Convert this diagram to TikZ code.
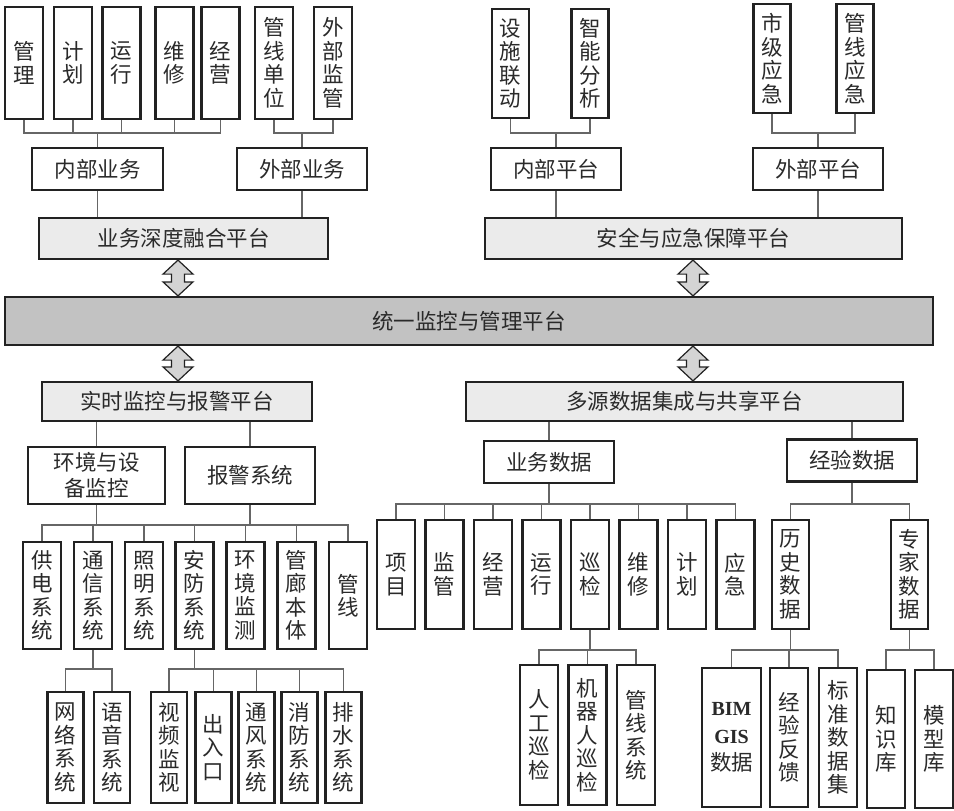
\documentclass[tikz,border=0pt]{standalone}
\usepackage{fontspec}
\setmainfont{Noto Sans CJK SC}
\newfontfamily\latserif{Liberation Serif}
\usetikzlibrary{calc}
\definecolor{edge}{HTML}{222222}
\definecolor{wirecol}{HTML}{666666}
\definecolor{txt}{HTML}{2A2A2A}
\definecolor{platfill}{HTML}{EBEBEB}
\definecolor{corefill}{HTML}{C2C2C2}
\definecolor{arrfill}{HTML}{D4D4D4}

\begin{document}
\begin{tikzpicture}[x=1pt, y=-1pt,
    every node/.style={font=\fontsize{21.5}{23.5}\selectfont, text=txt, inner sep=0pt, align=center},
    box/.style={draw=edge, line width=2.2pt, fill=white},
    leaf/.style={box, minimum width=38pt, minimum height=#1},
    leaf/.default=109pt,
    mid/.style={box, minimum width=130pt, minimum height=42pt},
    plat/.style={box, fill=platfill, minimum height=41pt},
    wire/.style={draw=wirecol, line width=1.1pt},
    twoway/.style={draw=edge, line width=1.2pt, fill=arrfill, line join=miter},
]
\useasboundingbox (0,0) rectangle (954,811);
\def\bus#1#2#3{\foreach \c in {#3} \draw[wire] (#1) -- (#1 |- #2) -| (\c);}
\def\bothway#1#2#3{%
  \draw[twoway] let \p1=(#1.south), \p2=(#2.north) in
    (#3pt,\y1) -- ++(15pt,-14pt) -- ++(-8.5pt,0pt) -- ({#3pt+6.5pt},{\y2+14pt})
    -- ++(8.5pt,0pt) -- (#3pt,\y2) -- ++(-15pt,14pt) -- ++(8.5pt,0pt)
    -- ({#3pt-6.5pt},{\y1-14pt}) -- ++(-8.5pt,0pt) -- cycle;}
\coordinate (busA) at (0,133);
\coordinate (busB) at (0,525);
\coordinate (busC) at (0,669);
\coordinate (busD) at (0,504);
\coordinate (busE) at (0,650);

% top left: business fusion
\foreach \n/\x/\t in {gl/24/管\\理, jh/73/计\\划, yx/121.5/运\\行, wx/174.5/维\\修,
    jy/220.5/经\\营, gxdw/274/管\\线\\单\\位, wbjg/333/外\\部\\监\\管}
    \node[leaf=112pt] (\n) at (\x, 63) {\t};
\node[mid, minimum width=131pt] (inbiz) at (97.5, 169) {内部业务};
\node[mid] (outbiz) at (302, 169) {外部业务};
\node[plat, minimum width=289pt] (bizplat) at (183.5, 238.5) {业务深度融合平台};
\bus{inbiz}{busA}{gl, jh, yx, wx, jy}
\bus{outbiz}{busA}{gxdw, wbjg}
\draw[wire] (inbiz) -- (inbiz |- bizplat.north);
\draw[wire] (outbiz) -- (outbiz |- bizplat.north);

% top right: safety and emergency
\foreach \n/\x/\y/\t in {ssld/510.5/63.5/设\\施\\联\\动, znfx/590/63.5/智\\能\\分\\析,
    sjyj/772/58.5/市\\级\\应\\急, gxyj/855/58.5/管\\线\\应\\急}
    \node[leaf, minimum width=37pt] (\n) at (\x, \y) {\t};
\node[mid] (inplat) at (556, 169) {内部平台};
\node[mid] (outplat) at (818, 169) {外部平台};
\node[plat, minimum width=417pt] (safeplat) at (693.5, 238.5) {安全与应急保障平台};
\bus{inplat}{busA}{ssld, znfx}
\bus{outplat}{busA}{sjyj, gxyj}
\draw[wire] (inplat) -- (inplat |- safeplat.north);
\draw[wire] (outplat) -- (outplat |- safeplat.north);

% centre band
\node[box, fill=corefill, minimum width=928pt, minimum height=48pt] (core) at (469, 321) {统一监控与管理平台};
\node[plat, minimum width=270pt, minimum height=39pt] (rtplat) at (177, 401.5) {实时监控与报警平台};
\node[plat, minimum width=437pt, minimum height=39pt] (dataplat) at (684.5, 401.5) {多源数据集成与共享平台};
\bothway{bizplat}{core}{178}
\bothway{safeplat}{core}{693}
\bothway{core}{rtplat}{178}
\bothway{core}{dataplat}{693}

% lower left: monitoring and alarm
\node[box, minimum width=137pt, minimum height=57pt] (envmon) at (96.5, 475.5) {环境与设\\[3pt]备监控};
\node[box, minimum width=130pt, minimum height=57pt] (alarm) at (250, 475.5) {报警系统};
\draw[wire] (envmon) -- (envmon |- rtplat.south);
\draw[wire] (alarm) -- (alarm |- rtplat.south);
\foreach \n/\x/\t in {gdxt/42/供\\电\\系\\统, txxt/93/通\\信\\系\\统, zmxt/144/照\\明\\系\\统,
    afxt/194.5/安\\防\\系\\统, hjjc/245.5/环\\境\\监\\测, glbt/296.5/管\\廊\\本\\体, gxian/348/管\\线}
    \node[leaf=107pt] (\n) at (\x, 595.5) {\t};
\bus{envmon}{busB}{gdxt, txxt, zmxt, afxt, hjjc, glbt, gxian}
\draw[wire] (alarm) -- (alarm |- busB);
\foreach \n/\x/\t in {wlxt/65.5/网\\络\\系\\统, yyxt/112/语\\音\\系\\统, spjs/169/视\\频\\监\\视,
    crk/213.5/出\\入\\口, tfxt/256.5/通\\风\\系\\统, xfxt/299.5/消\\防\\系\\统, psxt/343.5/排\\水\\系\\统}
    \node[leaf=111pt, minimum width=36pt] (\n) at (\x, 747.5) {\t};
\bus{txxt}{busC}{wlxt, yyxt}
\bus{afxt}{busC}{spjs, crk, tfxt, xfxt, psxt}

% lower right: data integration
\node[mid] (bizdata) at (549, 462) {业务数据};
\node[mid] (expdata) at (852, 460.5) {经验数据};
\draw[wire] (bizdata) -- (bizdata |- dataplat.south);
\draw[wire] (expdata) -- (expdata |- dataplat.south);
\foreach \n/\k/\t in {xm/0/项\\目, jg/1/监\\管, jyy/2/经\\营, yxx/3/运\\行,
    xj/4/巡\\检, wxx/5/维\\修, jhh/6/计\\划, yj/7/应\\急}
    \node[leaf] (\n) at ({396+48.5*\k}, 574.5) {\t};
\node[leaf, minimum width=37pt] (lssj) at (790.5, 574.5) {历\\史\\数\\据};
\node[leaf, minimum width=37pt] (zjsj) at (909.5, 574.5) {专\\家\\数\\据};
\bus{bizdata}{busD}{xm, jg, jyy, yxx, xj, wxx, jhh, yj}
\bus{expdata}{busD}{lssj, zjsj}
\foreach \n/\x/\t in {rgxj/539/人\\工\\巡\\检, jqr/587.5/机\\器\\人\\巡\\检, gxxt/636/管\\线\\系\\统}
    \node[leaf=140pt] (\n) at (\x, 735) {\t};
\node[leaf=139pt, minimum width=59pt] (bim) at (731.5, 737.5)
    {{\latserif\bfseries\fontsize{20}{23}\selectfont BIM}\\[4pt]{\latserif\bfseries\fontsize{20}{23}\selectfont GIS}\\[4pt]数据};
\foreach \n/\x/\t in {jyfk/789/经\\验\\反\\馈, bzsj/838/标\\准\\数\\据\\集}
    \node[leaf=139pt] (\n) at (\x, 737.5) {\t};
\foreach \n/\x/\t in {zsk/886/知\\识\\库, mxk/934/模\\型\\库}
    \node[leaf=138pt] (\n) at (\x, 739) {\t};
\bus{xj}{busE}{rgxj, jqr, gxxt}
\bus{lssj}{busE}{bim, jyfk, bzsj}
\bus{zjsj}{busE}{zsk, mxk}

\end{tikzpicture}
\end{document}
